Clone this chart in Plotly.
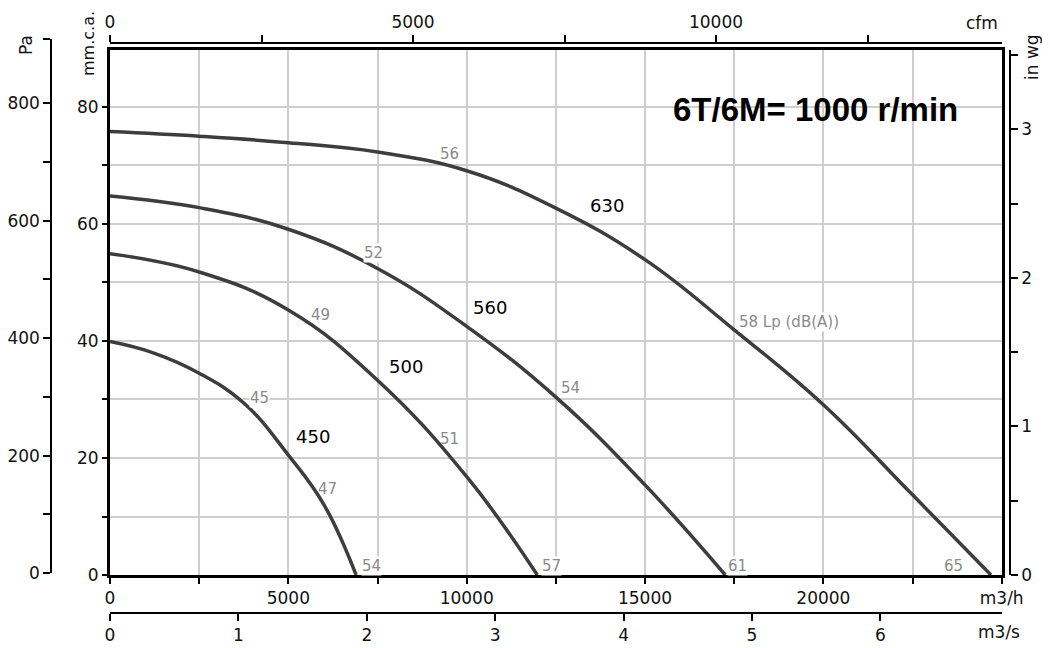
import plotly.graph_objects as go

# the page body adds an 8px margin around the figure div
OFF = 8
W, H = 1050 - OFF, 648 - OFF

# ---------------- data ----------------
sizes = ["450", "500", "560", "630"]

flow_450 = [0, 1250, 2500, 3750, 5000, 6000, 6900]
pres_450 = [39.9, 37.9, 34.5, 29.4, 20.5, 12.0, 0]

flow_500 = [0, 2500, 5000, 7500, 10000, 11980]
pres_500 = [54.9, 51.8, 45.3, 33.3, 16.8, 0]

flow_560 = [0, 2500, 5000, 7500, 10000, 12500, 15000, 17250]
pres_560 = [64.8, 62.8, 59.1, 52.4, 42.5, 30.4, 15.4, 0]

flow_630 = [0, 2500, 5000, 7500, 10000, 12500, 15000, 17500, 20000, 22500, 24700]
pres_630 = [75.8, 75.0, 73.9, 72.3, 69.1, 62.7, 53.9, 41.9, 29.1, 13.7, 0]

# curve size labels (position in m3/h, mm.c.a.)
size_label_q = [5683, 8299, 10645, 13925]
size_label_p = [23.6, 35.6, 45.8, 63.2]

# sound level labels Lp dB(A)
noise_text = ["45", "47", "54", "49", "51", "57", "52", "54", "61",
              "56", "58 Lp (dB(A))", "65"]
noise_q = [4200, 6106, 7345, 5888, 9518, 12364, 7393, 12897, 17592,
           9518, 17607, 23662]
noise_p = [30.2, 14.75, 1.54, 44.5, 23.25, 1.54, 55.0, 32.0, 1.54,
           72.0, 43.3, 1.54]
noise_anchor = ["center"] * 10 + ["left", "center"]
noise_bg = [True, False, True, False, False, True, True, False, True,
            False, True, False]

title_text = "6T/6M= 1000 r/min"

# axis ticks
q_ticks = list(range(0, 25001, 2500))
q_labels = ["0", "", "5000", "", "10000", "", "15000", "", "20000", "", "m3/h"]
m3s_ticks = [0, 1, 2, 3, 4, 5, 6]
m3s_labels = ["0", "1", "2", "3", "4", "5", "6"]
cfm_ticks = [0, 2500, 5000, 7500, 10000, 12500]
cfm_labels = ["0", "", "5000", "", "10000", ""]
mm_ticks = list(range(0, 81, 10))
mm_labels = ["0", "", "20", "", "40", "", "60", "", "80"]
pa_ticks = list(range(0, 801, 100))
pa_labels = ["0", "", "200", "", "400", "", "600", "", "800"]
inwg_ticks = [0, 0.5, 1, 1.5, 2, 2.5, 3, 3.5]
inwg_labels = ["0", "", "1", "", "2", "", "3", ""]

# unit conversions / ranges
Q_MAX = 25000.0
P_MAX = 89.74
M3H_PER_CFM = 1.699
M3H_PER_M3S = 3600.0
MM_PER_INWG = 25.4
PA_TOP = 909.5

# ---------------- layout helpers (window pixels -> paper fractions) ----------------
def px(x):
    return (x - OFF) / W

def py(y):
    return 1 - (y - OFF) / H

FONT = "DejaVu Sans"
TXT = "#111111"
CURVE = "#3d3d3d"
GREY = "#8a8a8a"
GRID = "#cfcfcf"
CLEAR = "rgba(0,0,0,0)"

fig = go.Figure()

curves = [(flow_450, pres_450), (flow_500, pres_500),
          (flow_560, pres_560), (flow_630, pres_630)]
for name, (q, p) in zip(sizes, curves):
    fig.add_trace(go.Scatter(x=q, y=p, mode="lines", name=name,
                             line=dict(color=CURVE, width=3.5, shape="spline", smoothing=1.2),
                             hoverinfo="skip", showlegend=False))

# invisible carriers for the secondary scales
fig.add_trace(go.Scatter(x=flow_630, y=[v * 10 for v in pres_630], xaxis="x4", yaxis="y2",
                         mode="lines", line=dict(color=CLEAR),
                         hoverinfo="skip", showlegend=False))
fig.add_trace(go.Scatter(x=[v / M3H_PER_M3S for v in flow_630], y=pres_630, xaxis="x2",
                         mode="lines", line=dict(color=CLEAR),
                         hoverinfo="skip", showlegend=False))
fig.add_trace(go.Scatter(x=[v / M3H_PER_CFM for v in flow_630], y=pres_630, xaxis="x3",
                         mode="lines", line=dict(color=CLEAR),
                         hoverinfo="skip", showlegend=False))
fig.add_trace(go.Scatter(x=flow_630, y=[v / MM_PER_INWG for v in pres_630], yaxis="y3",
                         mode="lines", line=dict(color=CLEAR),
                         hoverinfo="skip", showlegend=False))

tickfont = dict(family=FONT, size=17, color=TXT)
xdom = [px(110), px(1001.7)]
ydom = [py(575), py(50)]

common = dict(automargin=False, zeroline=False, tickfont=tickfont, fixedrange=True,
              tickcolor="black", tickwidth=1.5, linecolor="black")

fig.update_layout(
    template="none",
    width=W, height=H,
    margin=dict(l=0, r=0, t=0, b=0, pad=0),
    paper_bgcolor="white", plot_bgcolor=CLEAR,
    showlegend=False,
    xaxis=dict(domain=xdom, range=[0, Q_MAX], anchor="y",
               tickmode="array", tickvals=q_ticks, ticktext=q_labels,
               ticks="outside", ticklen=6,
               showline=True, linewidth=2.5, mirror=True,
               showgrid=True, gridcolor=GRID, gridwidth=1.5, **common),
    yaxis=dict(domain=ydom, range=[0, P_MAX], anchor="x",
               tickmode="array", tickvals=mm_ticks, ticktext=mm_labels,
               ticks="outside", ticklen=5,
               showline=True, linewidth=3, mirror=True,
               showgrid=True, gridcolor=GRID, gridwidth=1.5, **common),
    xaxis2=dict(overlaying="x", anchor="free", position=py(613), side="bottom",
                range=[0, Q_MAX / M3H_PER_M3S],
                tickmode="array", tickvals=m3s_ticks, ticktext=m3s_labels,
                ticks="outside", ticklen=7,
                showline=True, linewidth=1.5, showgrid=False, **common),
    xaxis3=dict(overlaying="x", anchor="free", position=py(43), side="top",
                range=[0, Q_MAX / M3H_PER_CFM],
                tickmode="array", tickvals=cfm_ticks, ticktext=cfm_labels,
                ticks="outside", ticklen=7,
                showline=True, linewidth=1.5, showgrid=False, **common),
    xaxis4=dict(domain=[px(52), px(53)], anchor="y2", visible=False,
                range=[0, Q_MAX], showgrid=False, automargin=False, fixedrange=True),
    yaxis2=dict(domain=[py(573), py(39)], anchor="free", position=px(51), side="left",
                range=[0, PA_TOP],
                tickmode="array", tickvals=pa_ticks + [PA_TOP], ticktext=pa_labels + [""],
                ticks="outside", ticklen=7,
                showline=True, linewidth=1.5, showgrid=False, **common),
    yaxis3=dict(overlaying="y", anchor="free", position=px(1010), side="right",
                range=[0, P_MAX / MM_PER_INWG],
                tickmode="array", tickvals=inwg_ticks, ticktext=inwg_labels,
                ticks="outside", ticklen=7,
                showline=True, linewidth=1.5, showgrid=False, **common),
)

annotations = []
# unit labels
annotations.append(dict(text="m3/s", x=px(999), y=py(632), xref="paper", yref="paper",
                        showarrow=False, font=tickfont, xanchor="center", yanchor="middle"))
annotations.append(dict(text="cfm", x=px(982), y=py(23), xref="paper", yref="paper",
                        showarrow=False, font=tickfont, xanchor="center", yanchor="middle"))
annotations.append(dict(text="Pa", x=px(26), y=py(45), xref="paper", yref="paper",
                        showarrow=False, font=tickfont, textangle=-90,
                        xanchor="center", yanchor="middle"))
annotations.append(dict(text="mm.c.a.", x=px(88), y=py(44), xref="paper", yref="paper",
                        showarrow=False, font=dict(family=FONT, size=16, color=TXT),
                        textangle=-90, xanchor="center", yanchor="middle"))
annotations.append(dict(text="in wg", x=px(1032), y=py(57), xref="paper", yref="paper",
                        showarrow=False, font=tickfont, textangle=-90,
                        xanchor="center", yanchor="middle"))

# size labels
for t, q, p in zip(sizes, size_label_q, size_label_p):
    annotations.append(dict(text=t, x=q, y=p, xref="x", yref="y", showarrow=False,
                            font=dict(family=FONT, size=18, color="black"),
                            xanchor="center", yanchor="middle"))
# sound labels
for t, q, p, a, bg in zip(noise_text, noise_q, noise_p, noise_anchor, noise_bg):
    annotations.append(dict(text=t, x=q, y=p, xref="x", yref="y", showarrow=False,
                            font=dict(family=FONT, size=15, color=GREY),
                            bgcolor="white" if bg else CLEAR, borderpad=0,
                            xanchor=a, yanchor="middle"))

# title with white box
annotations.append(dict(text="<b>" + title_text + "</b>", x=px(815), y=py(109),
                        xref="paper", yref="paper", showarrow=False,
                        font=dict(family="Liberation Sans", size=33, color="black"),
                        xanchor="center", yanchor="middle"))

fig.update_layout(annotations=annotations)
fig.add_shape(type="rect", xref="paper", yref="paper",
              x0=px(670), x1=px(975), y0=py(140), y1=py(88),
              fillcolor="white", line=dict(width=0), layer="between")

fig.write_html("out.html")
